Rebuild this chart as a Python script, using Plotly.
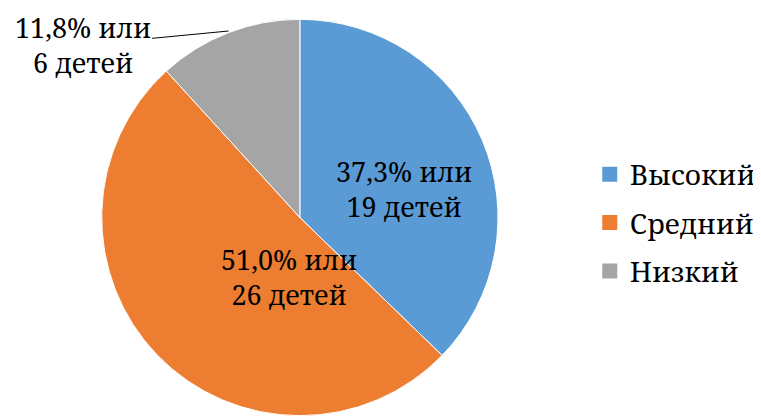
import plotly.graph_objects as go

categories = ["Высокий", "Средний", "Низкий"]
counts = [19, 26, 6]
colors = ["#5B9BD5", "#ED7D31", "#A5A5A5"]

total = sum(counts)
pcts = [c / total * 100 for c in counts]
texts = [f"{p:.1f}".replace(".", ",") + f"% или<br>{c} детей" for p, c in zip(pcts, counts)]

# the page body has an 8px margin, so the figure is drawn 8px right/down
OFF = 8
DX = 4  # small horizontal correction observed in rendering
W, H = 761 - OFF, 419 - OFF
FONT = "Noto Serif"

def px(x, y):
    return (x + DX - OFF) / W, 1 - (y - OFF) / H

fig = go.Figure(go.Pie(
    labels=categories,
    values=counts,
    sort=False,
    direction="clockwise",
    rotation=0,
    marker=dict(colors=colors, line=dict(color="white", width=1)),
    textinfo="none",
    hoverinfo="label+value+percent",
    showlegend=False,
    domain=dict(x=[px(100, 0)[0], px(506, 0)[0]], y=[0, px(0, 16)[1]]),
))

# legend entries (one per category, separate groups for even spacing)
for cat, col in zip(categories, colors):
    fig.add_trace(go.Scatter(x=[None], y=[None], mode="markers", name=cat,
                             legendgroup=cat,
                             marker=dict(symbol="square", size=15, color=col),
                             hoverinfo="skip"))

ann_pos = [(410, 189), (220, 277)]
annotations = []
for (x, y), t in zip(ann_pos, texts[:2]):
    xp, yp = px(x, y)
    annotations.append(dict(x=xp, y=yp, xref="paper", yref="paper", text=t,
                            showarrow=False, font=dict(family=FONT, size=27, color="black"),
                            align="center"))

# outside label with leader line
lx, ly = px(230, 31)
annotations.append(dict(x=lx, y=ly, xref="paper", yref="paper", text=texts[2],
                        showarrow=True, arrowhead=0, arrowwidth=1, arrowcolor="black",
                        axref="pixel", ayref="pixel", ax=84 - 230, ay=45 - 31,
                        standoff=0, startstandoff=0,
                        font=dict(family=FONT, size=27, color="black"), align="center"))

fig.update_layout(
    width=W, height=H,
    margin=dict(l=0, r=0, t=0, b=0),
    paper_bgcolor="white", plot_bgcolor="white",
    font=dict(family=FONT),
    xaxis=dict(visible=False), yaxis=dict(visible=False),
    showlegend=True,
    legend=dict(x=px(600, 0)[0], xanchor="left", y=px(0, 223)[1], yanchor="middle",
                font=dict(family=FONT, size=28, color="black"),
                tracegroupgap=9,
                bgcolor="rgba(0,0,0,0)"),
    annotations=annotations,
)

fig.write_html("out.html")
